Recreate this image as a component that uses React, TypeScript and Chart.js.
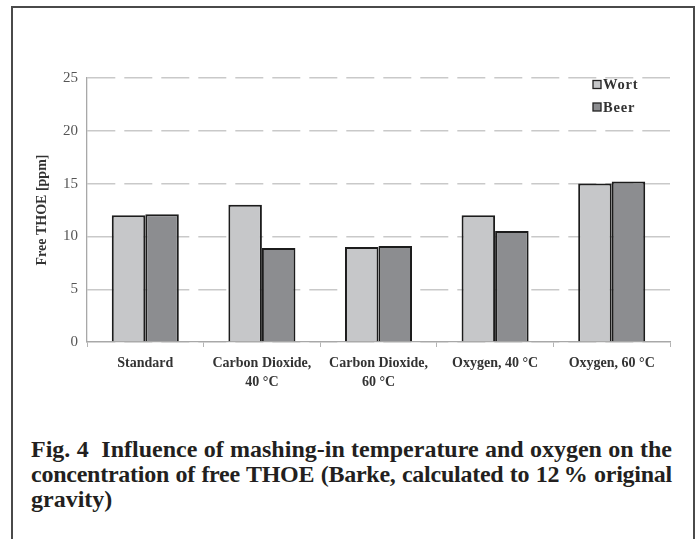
import React, { useEffect, useRef } from "react";
import { Chart, registerables } from "chart.js";

Chart.register(...registerables);

const categories: (string | string[])[] = [
  "Standard",
  ["Carbon Dioxide,", "40 °C"],
  ["Carbon Dioxide,", "60 °C"],
  "Oxygen, 40 °C",
  "Oxygen, 60 °C",
];
const wortValues = [12.0, 13.0, 9.0, 12.0, 15.0];
const beerValues = [12.1, 8.9, 9.1, 10.5, 15.2];
const seriesNames = ["Wort", "Beer"];
const yTicks = [0, 5, 10, 15, 20, 25];
const yTitle = "Free THOE [ppm]";
const captionLines = [
  "Fig. 4\u00a0\u00a0Influence of mashing-in temperature and oxygen on the",
  "concentration of free THOE (Barke, calculated to 12\u2009% original",
  "gravity)",
];

const WORT_COLOR = "#c6c7c9";
const BEER_COLOR = "#8c8d90";
const SERIF = "'Liberation Serif', 'Times New Roman', serif";

const legendPlugin = {
  id: "insideLegend",
  afterDraw(chart: any) {
    const ctx = chart.ctx;
    const ds = chart.data.datasets;
    const x0 = chart.chartArea.right - 77;
    const y0 = chart.chartArea.top + 7;
    ctx.save();
    ds.forEach((d: any, i: number) => {
      const y = y0 + i * 22.5;
      ctx.fillStyle = d.backgroundColor;
      ctx.fillRect(x0, y - 4.5, 8, 8);
      ctx.lineWidth = 1.3;
      ctx.strokeStyle = "#222";
      ctx.strokeRect(x0, y - 4.5, 8, 8);
      ctx.fillStyle = "#333";
      ctx.font = "bold 14.5px " + SERIF;
      try {
        (ctx as any).letterSpacing = "0.8px";
      } catch (e) {}
      ctx.textBaseline = "middle";
      ctx.textAlign = "left";
      ctx.fillText(d.label, x0 + 10, y + 0.5);
    });
    ctx.restore();
  },
};

export default function App() {
  const ref = useRef<HTMLCanvasElement | null>(null);

  useEffect(() => {
    if (!ref.current) return;
    const chart = new Chart(ref.current, {
      type: "bar",
      data: {
        labels: categories,
        datasets: [
          {
            label: seriesNames[0],
            data: wortValues,
            backgroundColor: WORT_COLOR,
            borderColor: "#1c1c1c",
            borderWidth: 2,
          },
          {
            label: seriesNames[1],
            data: beerValues,
            backgroundColor: BEER_COLOR,
            borderColor: "#1c1c1c",
            borderWidth: 2,
          },
        ],
      },
      options: {
        animation: false,
        responsive: false,
        maintainAspectRatio: false,
        layout: { padding: { top: 38, right: 14, left: 0, bottom: 0 } },
        datasets: {
          bar: { categoryPercentage: 0.575, barPercentage: 1 },
        },
        plugins: {
          legend: { display: false },
          tooltip: { enabled: false },
        },
        scales: {
          x: {
            grid: {
              display: true,
              drawOnChartArea: false,
              drawTicks: true,
              tickLength: 5,
              color: "#b4b4b4",
              offset: true,
            },
            border: { display: true, color: "#a8a8a8", width: 1.3 },
            ticks: {
              color: "#333",
              font: { family: SERIF, size: 14, weight: "bold", lineHeight: 1.35 },
              padding: 7,
              maxRotation: 0,
              autoSkip: false,
            },
            afterFit: (s: any) => {
              s.height = 58;
            },
          },
          y: {
            min: 0,
            max: 25,
            afterBuildTicks: (s: any) => {
              s.ticks = yTicks.map((v) => ({ value: v }));
            },
            grid: {
              color: "#c9c9c9",
              lineWidth: 1.4,
              drawTicks: false,
            },
            border: { display: true, color: "#a8a8a8", width: 1.3, dash: [28, 9] },
            ticks: {
              color: "#555",
              font: { family: SERIF, size: 15 },
              padding: 9,
            },
            title: {
              display: true,
              text: yTitle,
              color: "#333",
              font: { family: SERIF, size: 14, weight: "bold" },
              padding: { top: 20, bottom: 0 },
            },
            afterFit: (s: any) => {
              s.width = 73;
            },
          },
        },
      },
      plugins: [legendPlugin],
    });
    return () => chart.destroy();
  }, []);

  return (
    <div
      style={{
        position: "fixed",
        left: 0,
        top: 0,
        width: 699,
        height: 539,
        background: "#fff",
        overflow: "hidden",
      }}
    >
      <div
        style={{
          position: "absolute",
          left: 11,
          top: 6,
          width: 680,
          height: 560,
          borderTop: "2px solid #4a4a4a",
          borderLeft: "2px solid #4a4a4a",
          borderRight: "2px solid #4a4a4a",
        }}
      />
      <canvas
        ref={ref}
        width={670}
        height={360}
        style={{ position: "absolute", left: 14, top: 40, width: 670, height: 360 }}
      />
      <div
        style={{
          position: "absolute",
          left: 31,
          top: 437,
          width: 641,
          fontFamily: SERIF,
          fontWeight: "bold",
          fontSize: 24,
          lineHeight: "25px",
          color: "#231f20",
        }}
      >
        {captionLines.map((l, i) => (
          <div
            key={i}
            style={{
              whiteSpace: "nowrap",
              textAlign: i < 2 ? ("justify" as any) : "left",
              textAlignLast: i < 2 ? ("justify" as any) : "left",
              letterSpacing: i === 1 ? "-0.25px" : "0px",
              width: 641,
            }}
          >
            {l}
          </div>
        ))}
      </div>
    </div>
  );
}
